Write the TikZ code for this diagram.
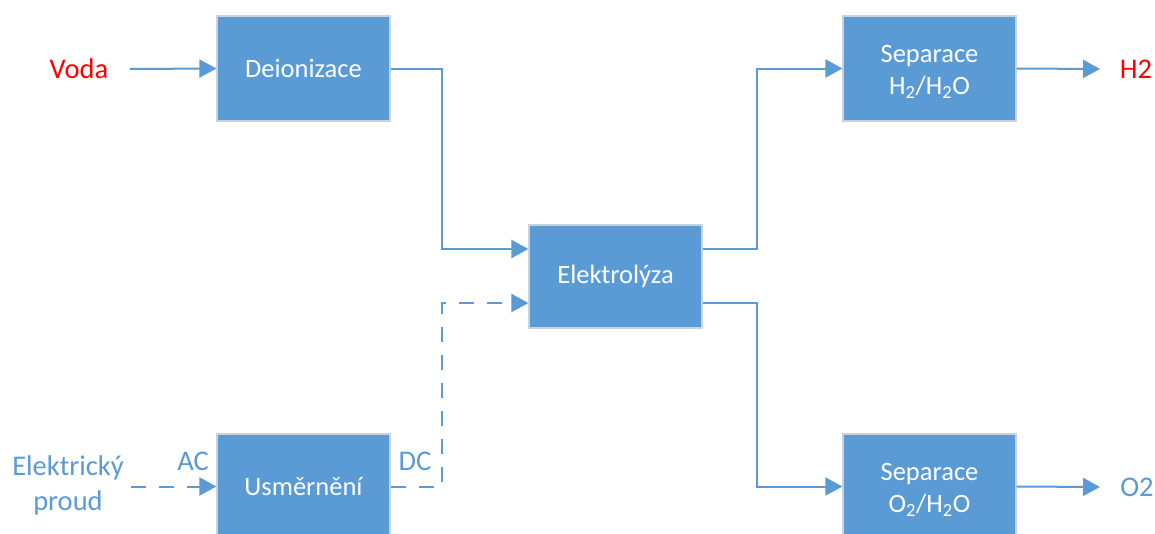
\documentclass[tikz,border=0pt]{standalone}
\usepackage{fontspec}
\setmainfont{Carlito}
\usetikzlibrary{arrows.meta}
\definecolor{boxblue}{HTML}{5B9BD5}
\definecolor{boxedge}{HTML}{C8D3DE}
\definecolor{labred}{HTML}{FF0000}
\begin{document}
\begin{tikzpicture}[x=1pt,y=-1pt,
  every node/.style={font=\fontsize{26.5}{32}\selectfont},
  block/.style={rectangle, fill=boxblue, draw=boxedge, line width=1.2pt,
    minimum width=173pt, minimum height=105pt, inner sep=0pt,
    text=white, align=center},
  blocktext/.style={inner sep=0pt, text=white, align=center},
  flow/.style={draw=boxblue, line width=2pt,
    -{Triangle[length=17pt,width=18pt]}},
  power/.style={flow, dash pattern=on 15pt off 13pt},
  lab/.style={inner sep=0pt, align=center, font=\fontsize{28.5}{35}\selectfont},
  redlab/.style={lab, text=labred},
  bluelab/.style={lab, text=boxblue}]
  \clip (0,0) rectangle (1155,533);
  \fill[white] (0,0) rectangle (1155,533);

  % process blocks
  \node[block] (dei)  at (303.5,68.5)  {Deionizace};
  \node[block] (usm)  at (303.5,486.5) {Usměrnění};
  \node[block, minimum height=103pt] (elek) at (615.5,276.5) {Elektrolýza};
  \node[block] (seph) at (929.5,68.5)  {};
  \node[block] (sepo) at (929.5,486.5) {};
  \node[blocktext] (sephtxt) at ([yshift=-3.5pt]seph.center)
    {Separace\\H\textsubscript{2}/H\textsubscript{2}O};
  \node[blocktext] (sepotxt) at ([yshift=-3.5pt]sepo.center)
    {Separace\\O\textsubscript{2}/H\textsubscript{2}O};

  % inputs and outputs
  \node[redlab]  (voda)  at (79,69)    {Voda};
  \node[bluelab] (proud) at (68,485)   {Elektrický\\proud};
  \node[redlab]  (h2)    at (1136,69)  {H2};
  \node[bluelab] (o2)    at (1137,487) {O2};
  \node[bluelab] (ac)    at (193,461)  {AC};
  \node[bluelab] (dc)    at (415,461)  {DC};

  \coordinate (vodaout)  at (130,69);
  \coordinate (proudout) at (131,486.5);
  \coordinate (h2in)     at (1100,69);
  \coordinate (o2in)     at (1100,487);

  % material flow
  \draw[flow] (vodaout) -- (dei.west);
  \draw[flow] (dei.east) -- ++(51,0) |- ([yshift=27.5pt]elek.west);
  \draw[flow] ([yshift=27.5pt]elek.east) -- ++(54,0) |- (seph.west);
  \draw[flow] ([yshift=-26.5pt]elek.east) -- ++(54,0) |- (sepo.west);
  \draw[flow] (seph.east) -- (h2in);
  \draw[flow] (sepo.east) -- (o2in);

  % electric power
  \draw[power] (proudout) -- (usm.west);
  \draw[power] (usm.east) -- ++(51,0) |- ([yshift=-26.5pt]elek.west);
\end{tikzpicture}
\end{document}
